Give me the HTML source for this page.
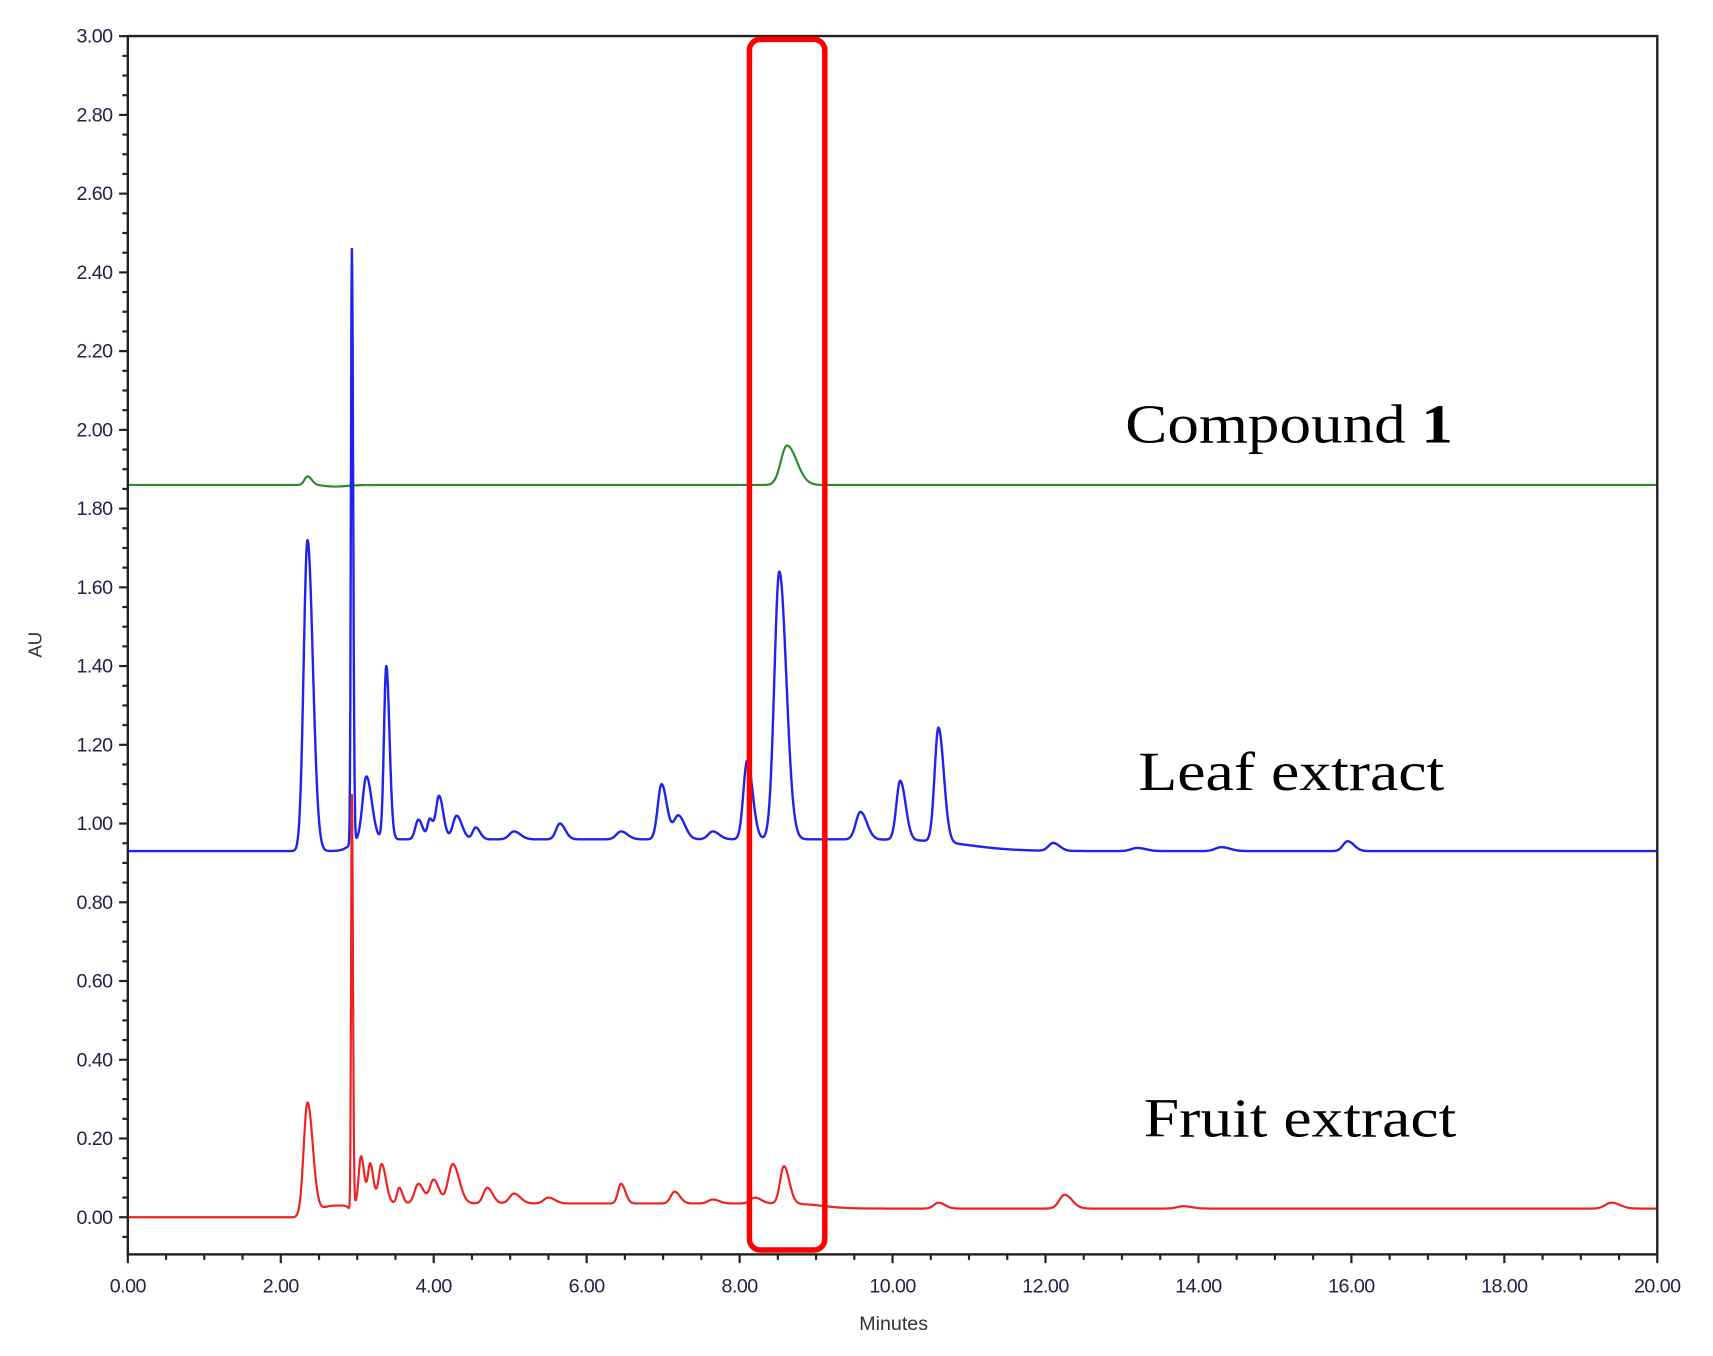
<!DOCTYPE html>
<html><head><meta charset="utf-8"><style>html,body{margin:0;padding:0;background:#fff}svg{display:block}</style></head>
<body>
<svg id="s" width="1713" height="1356" viewBox="0 0 1568 1241" preserveAspectRatio="none" xmlns="http://www.w3.org/2000/svg" font-family="Liberation Sans, sans-serif">
<rect x="0" y="0" width="1568" height="1241" fill="#fff"/>
<g id="ticks" stroke="#222" stroke-width="2"></g>
<g id="labels" font-size="18" fill="#222244" letter-spacing="-0.5"></g>
<g id="traces" fill="none"></g>
<rect x="117" y="33" width="1400" height="1115" fill="none" stroke="#222" stroke-width="2.2"/>
<rect x="686" y="36" width="69" height="1108" rx="10" ry="10" fill="none" stroke="#f00" stroke-width="5"/>
<text x="38" y="590" font-size="17" fill="#333" transform="rotate(-90 38 590)" text-anchor="middle">AU</text>
<text x="818" y="1217" font-size="18" fill="#333" text-anchor="middle">Minutes</text>
<g font-family="Liberation Serif, serif" font-size="50" fill="#000">
<text x="1030" y="405" textLength="300" lengthAdjust="spacingAndGlyphs">Compound <tspan font-weight="bold">1</tspan></text>
<text x="1042" y="723" textLength="280" lengthAdjust="spacingAndGlyphs">Leaf extract</text>
<text x="1047" y="1040" textLength="286" lengthAdjust="spacingAndGlyphs">Fruit extract</text>
</g>
</svg>
<script>
var NS="http://www.w3.org/2000/svg";
function X(t){return 117+70*t}function Y(v){return 1114-360.3*v}
var tk=document.getElementById('ticks'),lb=document.getElementById('labels');
function el(p,n,a,txt){var e=document.createElementNS(NS,n);for(var k in a)e.setAttribute(k,a[k]);if(txt!=null)e.textContent=txt;p.appendChild(e);return e}
for(var i=-2;i<=60;i++){var v=i*0.05;var y=Y(v);if(y<33||y>1148)continue;var maj=i%4==0;
el(tk,'line',{x1:117-(maj?8:5),x2:117,y1:y,y2:y});
if(maj)el(lb,'text',{x:103,y:y+6,'text-anchor':'end'},v.toFixed(2));}
for(var i=0;i<=40;i++){var t=i*0.5,x=X(t),maj=i%4==0;
el(tk,'line',{x1:x,x2:x,y1:1148,y2:1148+(maj?8:5)});
if(maj)el(lb,'text',{x:x,y:1183,'text-anchor':'middle'},t.toFixed(2));}
function sg(t,c,w){return 1/(1+Math.exp(-(t-c)/w))}
function trace(base,peaks,sw,color){var d='';for(var t=0;t<=20.001;t+=0.005){var v=base(t);
for(var p of peaks){var w=p[2]*(t>p[0]?(p[3]||1.4):1);v+=p[1]*Math.exp(-Math.pow((t-p[0])/w,2)/2);}
d+=(d?'L':'M')+X(t).toFixed(1)+' '+Y(v).toFixed(1);}
el(document.getElementById('traces'),'path',{d:d,stroke:color,'stroke-width':sw,'stroke-linejoin':'round'});}
trace(function(t){return 1.86},[[2.35,0.022,0.04],[2.7,-0.004,0.12],[8.62,0.10,0.08,1.6],[2.93,0.01,0.01]],2,'#2e8b2e');
trace(function(t){return 0.93+0.03*sg(t,2.9,0.05)-0.03*sg(t,11,0.3)},
[[2.35,0.79,0.05],[2.93,1.51,0.012],[3.12,0.16,0.05],[3.38,0.44,0.03],[3.8,0.05,0.04],[3.95,0.05,0.03],[4.07,0.11,0.04],[4.3,0.06,0.05],[4.55,0.03,0.04],[5.05,0.02,0.06],[5.65,0.04,0.05],[6.45,0.02,0.06],[6.98,0.14,0.05],[7.2,0.06,0.06],[7.65,0.02,0.06],[8.1,0.2,0.05],[8.52,0.68,0.065],[9.58,0.07,0.06],[10.1,0.15,0.05],[10.6,0.29,0.05],[12.1,0.02,0.06],[13.2,0.008,0.08],[14.3,0.01,0.08],[15.95,0.025,0.06]],2.2,'#2222ee');
trace(function(t){return 0.035*sg(t,2.93,0.02)-0.013*sg(t,9.1,0.15)+0.03*(sg(t,2.5,0.05)-sg(t,2.9,0.02))},
[[2.35,0.29,0.05],[2.93,1.05,0.01],[3.05,0.12,0.03],[3.17,0.1,0.03],[3.32,0.1,0.04],[3.55,0.04,0.03],[3.8,0.05,0.05],[4.0,0.06,0.05],[4.25,0.1,0.06],[4.7,0.04,0.05],[5.05,0.025,0.06],[5.5,0.015,0.06],[6.45,0.05,0.04],[7.15,0.03,0.05],[7.65,0.01,0.06],[8.2,0.015,0.06],[8.58,0.095,0.05],[10.6,0.015,0.06],[12.25,0.035,0.07],[13.8,0.006,0.08],[19.4,0.015,0.08]],2,'#ee2222');
</script>
</body></html>
